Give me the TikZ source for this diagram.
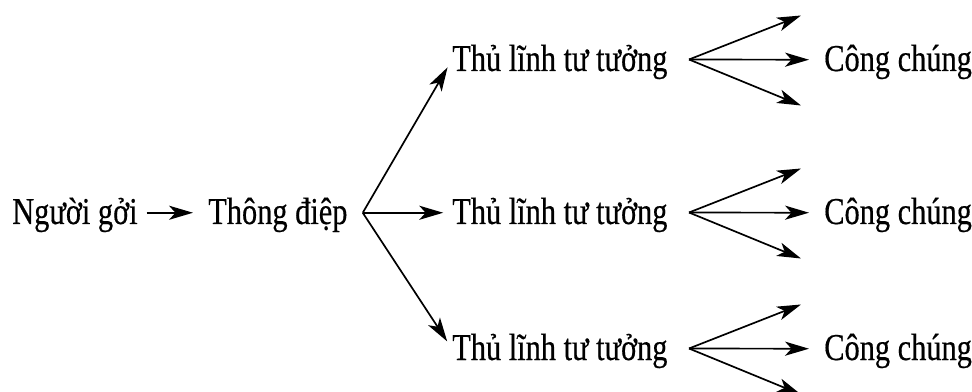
\documentclass[tikz,border=0pt]{standalone}
\usepackage{fontspec}
\setmainfont{Liberation Serif}[FakeStretch=0.8, FakeBold=0.4]
\usepackage{tikz}
\usetikzlibrary{arrows.meta,calc}

\begin{document}
\begin{tikzpicture}[x=0.025cm, y=-0.025cm,
  lbl/.style={anchor=base west, inner sep=0pt, text height=24pt, text depth=8pt,
    font=\fontsize{27}{32}\selectfont},
  arr/.style={-{Stealth[length=17pt, width=10pt, inset=4.5pt]}, line width=1.2pt}]
 \useasboundingbox (0,0) rectangle (972,392);

 \node [lbl] (sender) at (12,224) {Người gởi};
 \node [lbl] (msg) at (208,224) {Thông điệp};
 \node [lbl] (lead1) at (452,71) {Thủ lĩnh tư tưởng};
 \node [lbl] (lead2) at (452,224) {Thủ lĩnh tư tưởng};
 \node [lbl] (lead3) at (452,360) {Thủ lĩnh tư tưởng};
 \node [lbl] (pub1) at (824,71) {Công chúng};
 \node [lbl] (pub2) at (824,224) {Công chúng};
 \node [lbl] (pub3) at (824,360) {Công chúng};

 \coordinate (split) at ($(msg.east)+(15,0)$);
 \coordinate (fan1) at (689,59.5);
 \coordinate (fan2) at (689,212.5);
 \coordinate (fan3) at (689,348.5);
 \coordinate (up1) at (801,15.5);
 \coordinate (dn1) at (801,105.5);
 \coordinate (up2) at (801,168.5);
 \coordinate (dn2) at (801,258.5);
 \coordinate (up3) at (801,304.5);
 \coordinate (dn3) at (801,394.5);

 \draw [arr, shorten <=0.22cm, shorten >=0.375cm] (sender.east) -- (msg.west);
 \draw [arr, shorten >=0.22cm] (split) -- (lead1.west);
 \draw [arr, shorten >=0.22cm] (split) -- (lead2.west);
 \draw [arr, shorten >=0.22cm] (split) -- (lead3.west);

 \draw [arr] (fan1) -- (up1);
 \draw [arr, shorten >=0.375cm] (fan1) -- (pub1.west);
 \draw [arr] (fan1) -- (dn1);
 \draw [arr] (fan2) -- (up2);
 \draw [arr, shorten >=0.375cm] (fan2) -- (pub2.west);
 \draw [arr] (fan2) -- (dn2);
 \draw [arr] (fan3) -- (up3);
 \draw [arr, shorten >=0.375cm] (fan3) -- (pub3.west);
 \draw [arr] (fan3) -- (dn3);
\end{tikzpicture}
\end{document}
